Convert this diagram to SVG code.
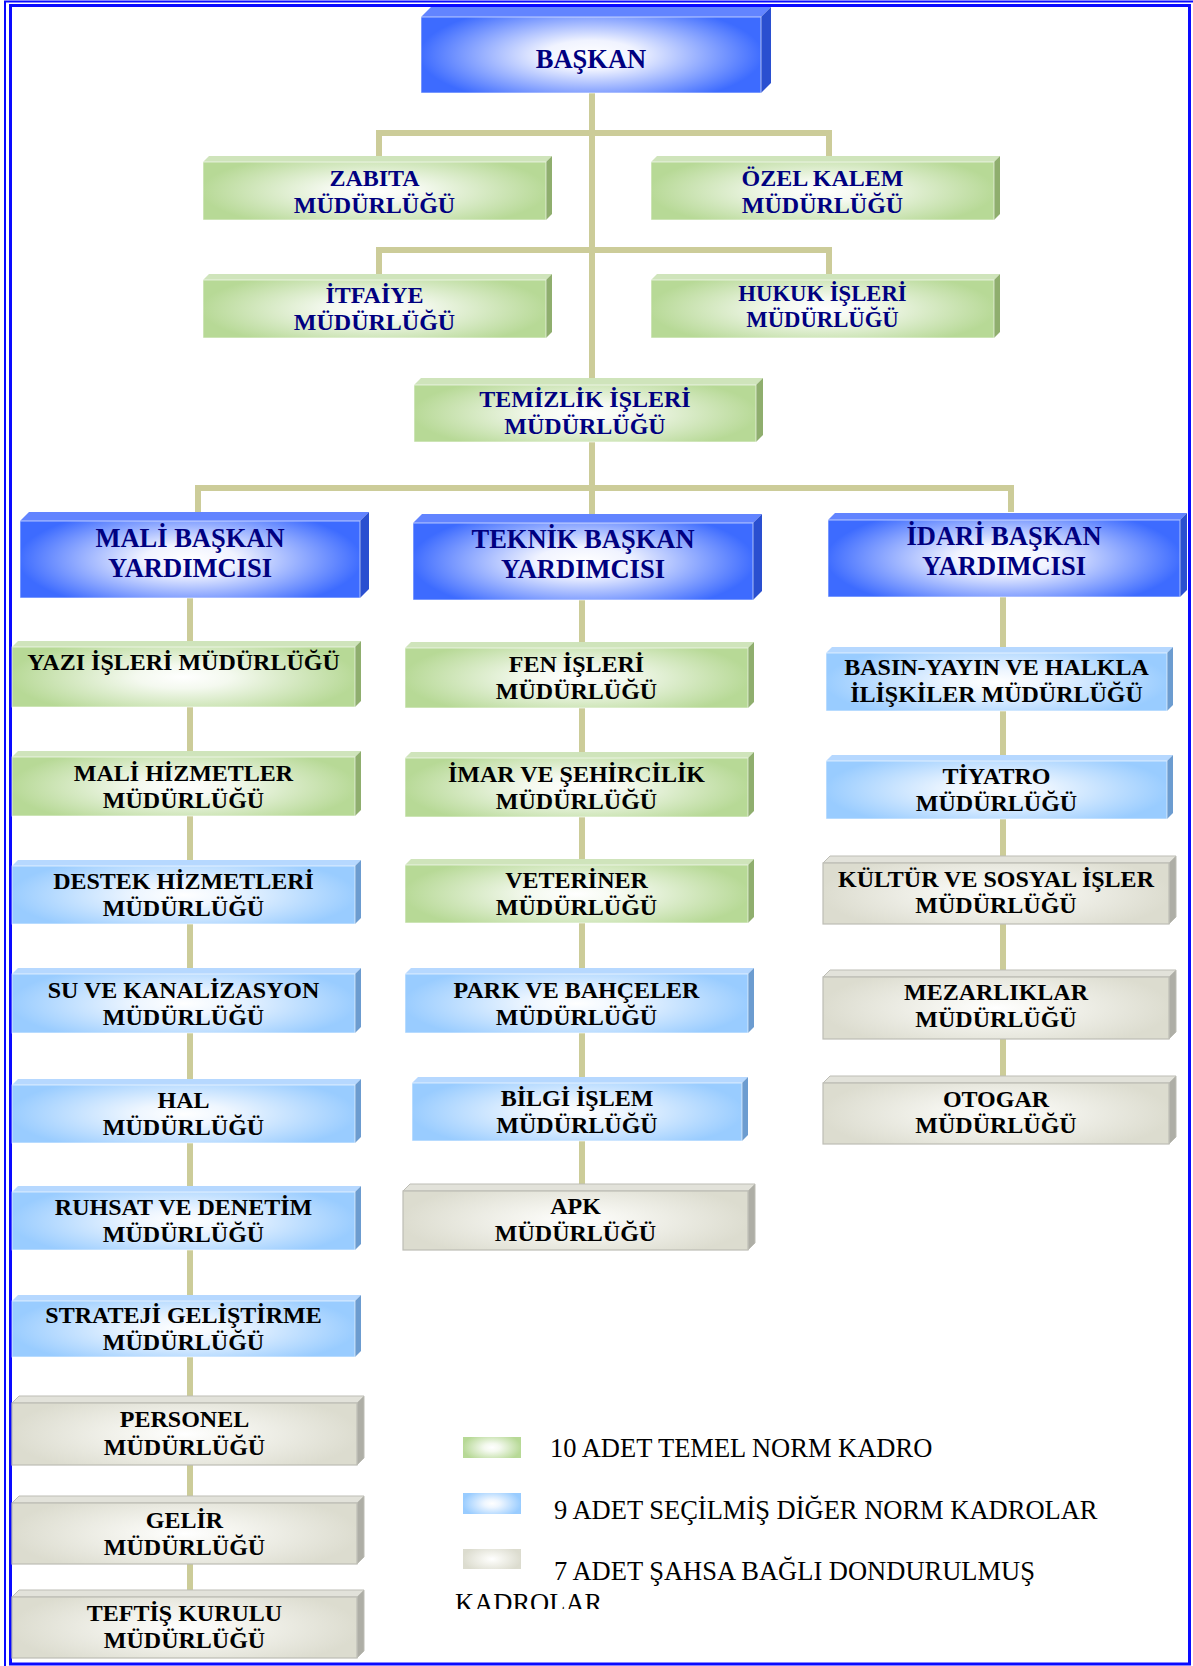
<svg xmlns="http://www.w3.org/2000/svg" width="1193" height="1666" viewBox="0 0 1193 1666">
<defs>
<radialGradient id="gBlue" cx="0.5" cy="0.5" r="0.55" gradientTransform="translate(0.5,0.5) scale(1,1.4) translate(-0.5,-0.5)">
<stop offset="0" stop-color="#ffffff"/><stop offset="0.25" stop-color="#f0f3ff"/><stop offset="0.92" stop-color="#3d6bff"/>
</radialGradient>
<radialGradient id="gGreen" cx="0.5" cy="0.5" r="0.55" gradientTransform="translate(0.5,0.5) scale(1,1.4) translate(-0.5,-0.5)">
<stop offset="0" stop-color="#ffffff"/><stop offset="0.25" stop-color="#f4f9ef"/><stop offset="0.92" stop-color="#b7d996"/>
</radialGradient>
<radialGradient id="gLight" cx="0.5" cy="0.5" r="0.55" gradientTransform="translate(0.5,0.5) scale(1,1.4) translate(-0.5,-0.5)">
<stop offset="0" stop-color="#ffffff"/><stop offset="0.25" stop-color="#eef6ff"/><stop offset="0.92" stop-color="#99ccff"/>
</radialGradient>
<radialGradient id="gGray" cx="0.5" cy="0.5" r="0.55" gradientTransform="translate(0.5,0.5) scale(1,1.4) translate(-0.5,-0.5)">
<stop offset="0" stop-color="#ffffff"/><stop offset="0.25" stop-color="#f6f6f1"/><stop offset="0.92" stop-color="#dcdccf"/>
</radialGradient>
<clipPath id="clipK"><rect x="400" y="1590" width="300" height="19"/></clipPath>
<style>
.conn{fill:none;stroke:#cccc99;stroke-width:6;stroke-linejoin:miter;stroke-linecap:butt}
.b .f{fill:url(#gBlue);stroke:#ffffff;stroke-opacity:0.6;stroke-width:1}
.b .t{fill:#6284ff}
.b .s{fill:#2a4fd0}
.g .f{fill:url(#gGreen);stroke:#ffffff;stroke-opacity:0.6;stroke-width:1}
.g .t{fill:#cfe4bb}
.g .s{fill:#8fae6e}
.l .f{fill:url(#gLight);stroke:#ffffff;stroke-opacity:0.6;stroke-width:1}
.l .t{fill:#b6d8ff}
.l .s{fill:#6c9cd0}
.y .f{fill:url(#gGray);stroke:#bdbdb5;stroke-width:1.2}
.y .t{fill:#e2e2da;stroke:#bdbdb5;stroke-width:1}
.y .s{fill:#aeaea6;stroke:#bdbdb5;stroke-width:1}
text{font-family:"Liberation Serif","Times New Roman",serif;text-anchor:middle}
.lb{font-weight:bold;font-size:24px;fill:#000000}
.nv{font-weight:bold;font-size:24px;fill:#000080}
.sm{font-size:22.7px}
.hd{font-weight:bold;font-size:26.5px;fill:#000080}
.lg{font-size:26.5px;fill:#000000;text-anchor:start}
.frame{fill:none;stroke:#0a0aff}
</style>
</defs>
<rect x="0" y="0" width="1193" height="1666" fill="#ffffff"/>
<rect class="frame" x="5" y="1.5" width="1190" height="1667" stroke-width="2"/>
<rect class="frame" x="10.5" y="5.5" width="1179" height="1658.5" stroke-width="3"/>

<g id="connectors">
<path class="conn" d="M592 93 V378"/>
<path class="conn" d="M379 156 V133 H829 V156"/>
<path class="conn" d="M379 274 V250 H829 V274"/>
<path class="conn" d="M592 442 V514"/>
<path class="conn" d="M198 512 V488 H1011 V512"/>
<path class="conn" d="M190 598 V1597"/>
<path class="conn" d="M582 600 V1191"/>
<path class="conn" d="M1003 597 V1083"/>
</g>

<g id="baskan" class="b">
<polygon class="t" points="421,17 431,7 771,7 761,17"/><polygon class="s" points="761,17 771,7 771,83 761,93"/>
<rect class="f" x="421" y="17" width="340" height="76"/>
<text class="hd" x="591" y="68">BAŞKAN</text>
</g>

<g id="zabita" class="g">
<polygon class="t" points="203,162 209,156 552,156 546,162"/><polygon class="s" points="546,162 552,156 552,214 546,220"/>
<rect class="f" x="203" y="162" width="343" height="58"/>
<text class="nv" x="374.5" y="186">ZABITA</text><text class="nv" x="374.5" y="213">MÜDÜRLÜĞÜ</text>
</g>

<g id="ozel-kalem" class="g">
<polygon class="t" points="651,162 657,156 1000,156 994,162"/><polygon class="s" points="994,162 1000,156 1000,214 994,220"/>
<rect class="f" x="651" y="162" width="343" height="58"/>
<text class="nv" x="822.5" y="186">ÖZEL KALEM</text><text class="nv" x="822.5" y="213">MÜDÜRLÜĞÜ</text>
</g>

<g id="itfaiye" class="g">
<polygon class="t" points="203,280 209,274 552,274 546,280"/><polygon class="s" points="546,280 552,274 552,332 546,338"/>
<rect class="f" x="203" y="280" width="343" height="58"/>
<text class="nv" x="374.5" y="303">İTFAİYE</text><text class="nv" x="374.5" y="330">MÜDÜRLÜĞÜ</text>
</g>

<g id="hukuk" class="g">
<polygon class="t" points="651,280 657,274 1000,274 994,280"/><polygon class="s" points="994,280 1000,274 1000,332 994,338"/>
<rect class="f" x="651" y="280" width="343" height="58"/>
<text class="nv sm" x="822.5" y="301">HUKUK İŞLERİ</text><text class="nv sm" x="822.5" y="327">MÜDÜRLÜĞÜ</text>
</g>

<g id="temizlik" class="g">
<polygon class="t" points="414,385 421,378 763,378 756,385"/><polygon class="s" points="756,385 763,378 763,435 756,442"/>
<rect class="f" x="414" y="385" width="342" height="57"/>
<text class="nv" x="585" y="407">TEMİZLİK İŞLERİ</text><text class="nv" x="585" y="434">MÜDÜRLÜĞÜ</text>
</g>

<g id="mali-by" class="b">
<polygon class="t" points="20,521 29,512 369,512 360,521"/><polygon class="s" points="360,521 369,512 369,589 360,598"/>
<rect class="f" x="20" y="521" width="340" height="77"/>
<text class="hd" x="190" y="547">MALİ BAŞKAN</text><text class="hd" x="190" y="577">YARDIMCISI</text>
</g>

<g id="teknik-by" class="b">
<polygon class="t" points="413,523 422,514 762,514 753,523"/><polygon class="s" points="753,523 762,514 762,591 753,600"/>
<rect class="f" x="413" y="523" width="340" height="77"/>
<text class="hd" x="583" y="548">TEKNİK BAŞKAN</text><text class="hd" x="583" y="578">YARDIMCISI</text>
</g>

<g id="idari-by" class="b">
<polygon class="t" points="828,520 835,513 1187,513 1180,520"/><polygon class="s" points="1180,520 1187,513 1187,590 1180,597"/>
<rect class="f" x="828" y="520" width="352" height="77"/>
<text class="hd" x="1004" y="545">İDARİ BAŞKAN</text><text class="hd" x="1004" y="575">YARDIMCISI</text>
</g>

<g id="yazi-isleri" class="g">
<polygon class="t" points="12,647 18,641 361,641 355,647"/><polygon class="s" points="355,647 361,641 361,701 355,707"/>
<rect class="f" x="12" y="647" width="343" height="60"/>
<text class="lb" x="183.5" y="670">YAZI İŞLERİ MÜDÜRLÜĞÜ</text>
</g>

<g id="mali-hizmetler" class="g">
<polygon class="t" points="12,757 18,751 361,751 355,757"/><polygon class="s" points="355,757 361,751 361,810 355,816"/>
<rect class="f" x="12" y="757" width="343" height="59"/>
<text class="lb" x="183.5" y="781">MALİ HİZMETLER</text><text class="lb" x="183.5" y="808">MÜDÜRLÜĞÜ</text>
</g>

<g id="destek" class="l">
<polygon class="t" points="12,866 18,860 361,860 355,866"/><polygon class="s" points="355,866 361,860 361,918 355,924"/>
<rect class="f" x="12" y="866" width="343" height="58"/>
<text class="lb" x="183.5" y="889">DESTEK HİZMETLERİ</text><text class="lb" x="183.5" y="916">MÜDÜRLÜĞÜ</text>
</g>

<g id="su-kanalizasyon" class="l">
<polygon class="t" points="12,974 18,968 361,968 355,974"/><polygon class="s" points="355,974 361,968 361,1027 355,1033"/>
<rect class="f" x="12" y="974" width="343" height="59"/>
<text class="lb" x="183.5" y="998">SU VE KANALİZASYON</text><text class="lb" x="183.5" y="1025">MÜDÜRLÜĞÜ</text>
</g>

<g id="hal" class="l">
<polygon class="t" points="12,1085 18,1079 361,1079 355,1085"/><polygon class="s" points="355,1085 361,1079 361,1137 355,1143"/>
<rect class="f" x="12" y="1085" width="343" height="58"/>
<text class="lb" x="183.5" y="1108">HAL</text><text class="lb" x="183.5" y="1135">MÜDÜRLÜĞÜ</text>
</g>

<g id="ruhsat" class="l">
<polygon class="t" points="12,1192 18,1186 361,1186 355,1192"/><polygon class="s" points="355,1192 361,1186 361,1244 355,1250"/>
<rect class="f" x="12" y="1192" width="343" height="58"/>
<text class="lb" x="183.5" y="1215">RUHSAT VE DENETİM</text><text class="lb" x="183.5" y="1242">MÜDÜRLÜĞÜ</text>
</g>

<g id="strateji" class="l">
<polygon class="t" points="12,1301 18,1295 361,1295 355,1301"/><polygon class="s" points="355,1301 361,1295 361,1351 355,1357"/>
<rect class="f" x="12" y="1301" width="343" height="56"/>
<text class="lb" x="183.5" y="1323">STRATEJİ GELİŞTİRME</text><text class="lb" x="183.5" y="1350">MÜDÜRLÜĞÜ</text>
</g>

<g id="personel" class="y">
<polygon class="t" points="12,1403 19,1396 364,1396 357,1403"/><polygon class="s" points="357,1403 364,1396 364,1458 357,1465"/>
<rect class="f" x="12" y="1403" width="345" height="62"/>
<text class="lb" x="184.5" y="1427">PERSONEL</text><text class="lb" x="184.5" y="1455">MÜDÜRLÜĞÜ</text>
</g>

<g id="gelir" class="y">
<polygon class="t" points="12,1503 19,1496 364,1496 357,1503"/><polygon class="s" points="357,1503 364,1496 364,1557 357,1564"/>
<rect class="f" x="12" y="1503" width="345" height="61"/>
<text class="lb" x="184.5" y="1528">GELİR</text><text class="lb" x="184.5" y="1555">MÜDÜRLÜĞÜ</text>
</g>

<g id="teftis" class="y">
<polygon class="t" points="12,1597 19,1590 364,1590 357,1597"/><polygon class="s" points="357,1597 364,1590 364,1651 357,1658"/>
<rect class="f" x="12" y="1597" width="345" height="61"/>
<text class="lb" x="184.5" y="1621">TEFTİŞ KURULU</text><text class="lb" x="184.5" y="1648">MÜDÜRLÜĞÜ</text>
</g>

<g id="fen-isleri" class="g">
<polygon class="t" points="405,648 411,642 754,642 748,648"/><polygon class="s" points="748,648 754,642 754,702 748,708"/>
<rect class="f" x="405" y="648" width="343" height="60"/>
<text class="lb" x="576.5" y="672">FEN İŞLERİ</text><text class="lb" x="576.5" y="699">MÜDÜRLÜĞÜ</text>
</g>

<g id="imar" class="g">
<polygon class="t" points="405,758 411,752 754,752 748,758"/><polygon class="s" points="748,758 754,752 754,811 748,817"/>
<rect class="f" x="405" y="758" width="343" height="59"/>
<text class="lb" x="576.5" y="782">İMAR VE ŞEHİRCİLİK</text><text class="lb" x="576.5" y="809">MÜDÜRLÜĞÜ</text>
</g>

<g id="veteriner" class="g">
<polygon class="t" points="405,865 411,859 754,859 748,865"/><polygon class="s" points="748,865 754,859 754,917 748,923"/>
<rect class="f" x="405" y="865" width="343" height="58"/>
<text class="lb" x="576.5" y="888">VETERİNER</text><text class="lb" x="576.5" y="915">MÜDÜRLÜĞÜ</text>
</g>

<g id="park-bahceler" class="l">
<polygon class="t" points="405,974 411,968 754,968 748,974"/><polygon class="s" points="748,974 754,968 754,1027 748,1033"/>
<rect class="f" x="405" y="974" width="343" height="59"/>
<text class="lb" x="576.5" y="998">PARK VE BAHÇELER</text><text class="lb" x="576.5" y="1025">MÜDÜRLÜĞÜ</text>
</g>

<g id="bilgi-islem" class="l">
<polygon class="t" points="412,1083 418,1077 748,1077 742,1083"/><polygon class="s" points="742,1083 748,1077 748,1135 742,1141"/>
<rect class="f" x="412" y="1083" width="330" height="58"/>
<text class="lb" x="577" y="1106">BİLGİ İŞLEM</text><text class="lb" x="577" y="1133">MÜDÜRLÜĞÜ</text>
</g>

<g id="apk" class="y">
<polygon class="t" points="403,1191 410,1184 755,1184 748,1191"/><polygon class="s" points="748,1191 755,1184 755,1243 748,1250"/>
<rect class="f" x="403" y="1191" width="345" height="59"/>
<text class="lb" x="575.5" y="1214">APK</text><text class="lb" x="575.5" y="1241">MÜDÜRLÜĞÜ</text>
</g>

<g id="basin-yayin" class="l">
<polygon class="t" points="826,653 832,647 1173,647 1167,653"/><polygon class="s" points="1167,653 1173,647 1173,705 1167,711"/>
<rect class="f" x="826" y="653" width="341" height="58"/>
<text class="lb" x="996.5" y="675">BASIN-YAYIN VE HALKLA</text><text class="lb" x="996.5" y="702">İLİŞKİLER MÜDÜRLÜĞÜ</text>
</g>

<g id="tiyatro" class="l">
<polygon class="t" points="826,761 832,755 1173,755 1167,761"/><polygon class="s" points="1167,761 1173,755 1173,813 1167,819"/>
<rect class="f" x="826" y="761" width="341" height="58"/>
<text class="lb" x="996.5" y="784">TİYATRO</text><text class="lb" x="996.5" y="811">MÜDÜRLÜĞÜ</text>
</g>

<g id="kultur" class="y">
<polygon class="t" points="823,863 830,856 1176,856 1169,863"/><polygon class="s" points="1169,863 1176,856 1176,917 1169,924"/>
<rect class="f" x="823" y="863" width="346" height="61"/>
<text class="lb" x="996" y="887">KÜLTÜR VE SOSYAL İŞLER</text><text class="lb" x="996" y="913">MÜDÜRLÜĞÜ</text>
</g>

<g id="mezarliklar" class="y">
<polygon class="t" points="823,977 830,970 1176,970 1169,977"/><polygon class="s" points="1169,977 1176,970 1176,1032 1169,1039"/>
<rect class="f" x="823" y="977" width="346" height="62"/>
<text class="lb" x="996" y="1000">MEZARLIKLAR</text><text class="lb" x="996" y="1027">MÜDÜRLÜĞÜ</text>
</g>

<g id="otogar" class="y">
<polygon class="t" points="823,1083 830,1076 1176,1076 1169,1083"/><polygon class="s" points="1169,1083 1176,1076 1176,1137 1169,1144"/>
<rect class="f" x="823" y="1083" width="346" height="61"/>
<text class="lb" x="996" y="1107">OTOGAR</text><text class="lb" x="996" y="1133">MÜDÜRLÜĞÜ</text>
</g>

<g id="legend">
<rect x="463" y="1437" width="58" height="21" fill="url(#gGreen)"/>
<rect x="463" y="1493" width="58" height="21" fill="url(#gLight)"/>
<rect x="463" y="1549" width="58" height="20" fill="url(#gGray)"/>
<text class="lg" x="550" y="1457">10 ADET TEMEL NORM KADRO</text>
<text class="lg" x="554" y="1519">9 ADET SEÇİLMİŞ DİĞER NORM KADROLAR</text>
<text class="lg" x="554" y="1580">7 ADET ŞAHSA BAĞLI DONDURULMUŞ</text>
<text class="lg" x="455" y="1612" clip-path="url(#clipK)">KADROLAR</text>
</g>
</svg>
